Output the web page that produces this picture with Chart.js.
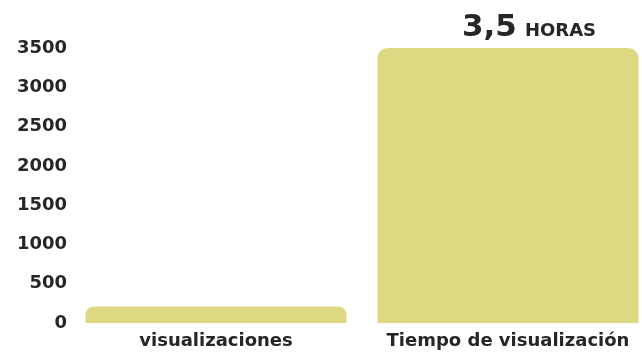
<!DOCTYPE html>
<html lang="es">
<head>
<meta charset="UTF-8">
<title>Visualizaciones</title>
<script src="https://cdn.jsdelivr.net/npm/chart.js"></script>
<style>
  html, body { margin: 0; padding: 0; background: #fff; overflow: hidden; }
  .wrap { position: relative; width: 654px; height: 352px; }
</style>
</head>
<body>
<div class="wrap"><canvas id="chart"></canvas></div>
<script>
// data
const categories = ['visualizaciones', 'Tiempo de visualización'];
const values = [210, 3500];
const yTicks = [0, 500, 1000, 1500, 2000, 2500, 3000, 3500];
const topLabelValue = '3,5';
const topLabelUnit = 'HORAS';

const textColor = '#262626';
const fontFamily = '"DejaVu Sans", sans-serif';

// label above the second bar
const topLabel = {
  id: 'topLabel',
  afterDatasetsDraw(chart) {
    const bar = chart.getDatasetMeta(0).data[1];
    const ctx = chart.ctx;
    ctx.save();
    ctx.fillStyle = textColor;
    ctx.textBaseline = 'alphabetic';
    ctx.textAlign = 'left';
    let x = bar.x - 46;
    const y = bar.y - 12;
    ctx.font = 'bold 31px ' + fontFamily;
    ctx.fillText(topLabelValue, x, y);
    x += ctx.measureText(topLabelValue).width + 8;
    ctx.font = 'bold 18px ' + fontFamily;
    ctx.fillText(topLabelUnit, x, y);
    ctx.restore();
  }
};

new Chart(document.getElementById('chart'), {
  type: 'bar',
  data: {
    labels: categories,
    datasets: [{
      data: values,
      backgroundColor: '#ddd982',
      borderSkipped: 'bottom',
      borderRadius: { topLeft: 10, topRight: 10, bottomLeft: 0, bottomRight: 0 },
      categoryPercentage: 1,
      barPercentage: 0.894
    }]
  },
  options: {
    responsive: true,
    maintainAspectRatio: false,
    animation: false,
    layout: { padding: { top: 48, right: 0, bottom: 0, left: 0 } },
    plugins: {
      legend: { display: false },
      tooltip: { enabled: false }
    },
    scales: {
      x: {
        afterFit(scale) { scale.height = 29; },
        grid: { display: false, drawTicks: false },
        border: { display: false },
        ticks: {
          color: textColor,
          padding: 8,
          maxRotation: 0,
          font: { family: fontFamily, size: 18, weight: 'bold' }
        }
      },
      y: {
        min: 0,
        max: 3500,
        afterFit(scale) { scale.width = 70; },
        afterBuildTicks(scale) { scale.ticks = yTicks.map(v => ({ value: v })); },
        grid: { display: false, drawTicks: false },
        border: { display: false },
        ticks: {
          color: textColor,
          padding: 3,
          callback: v => String(v),
          font: { family: fontFamily, size: 18, weight: 'bold' }
        }
      }
    }
  },
  plugins: [topLabel]
});
</script>
</body>
</html>
